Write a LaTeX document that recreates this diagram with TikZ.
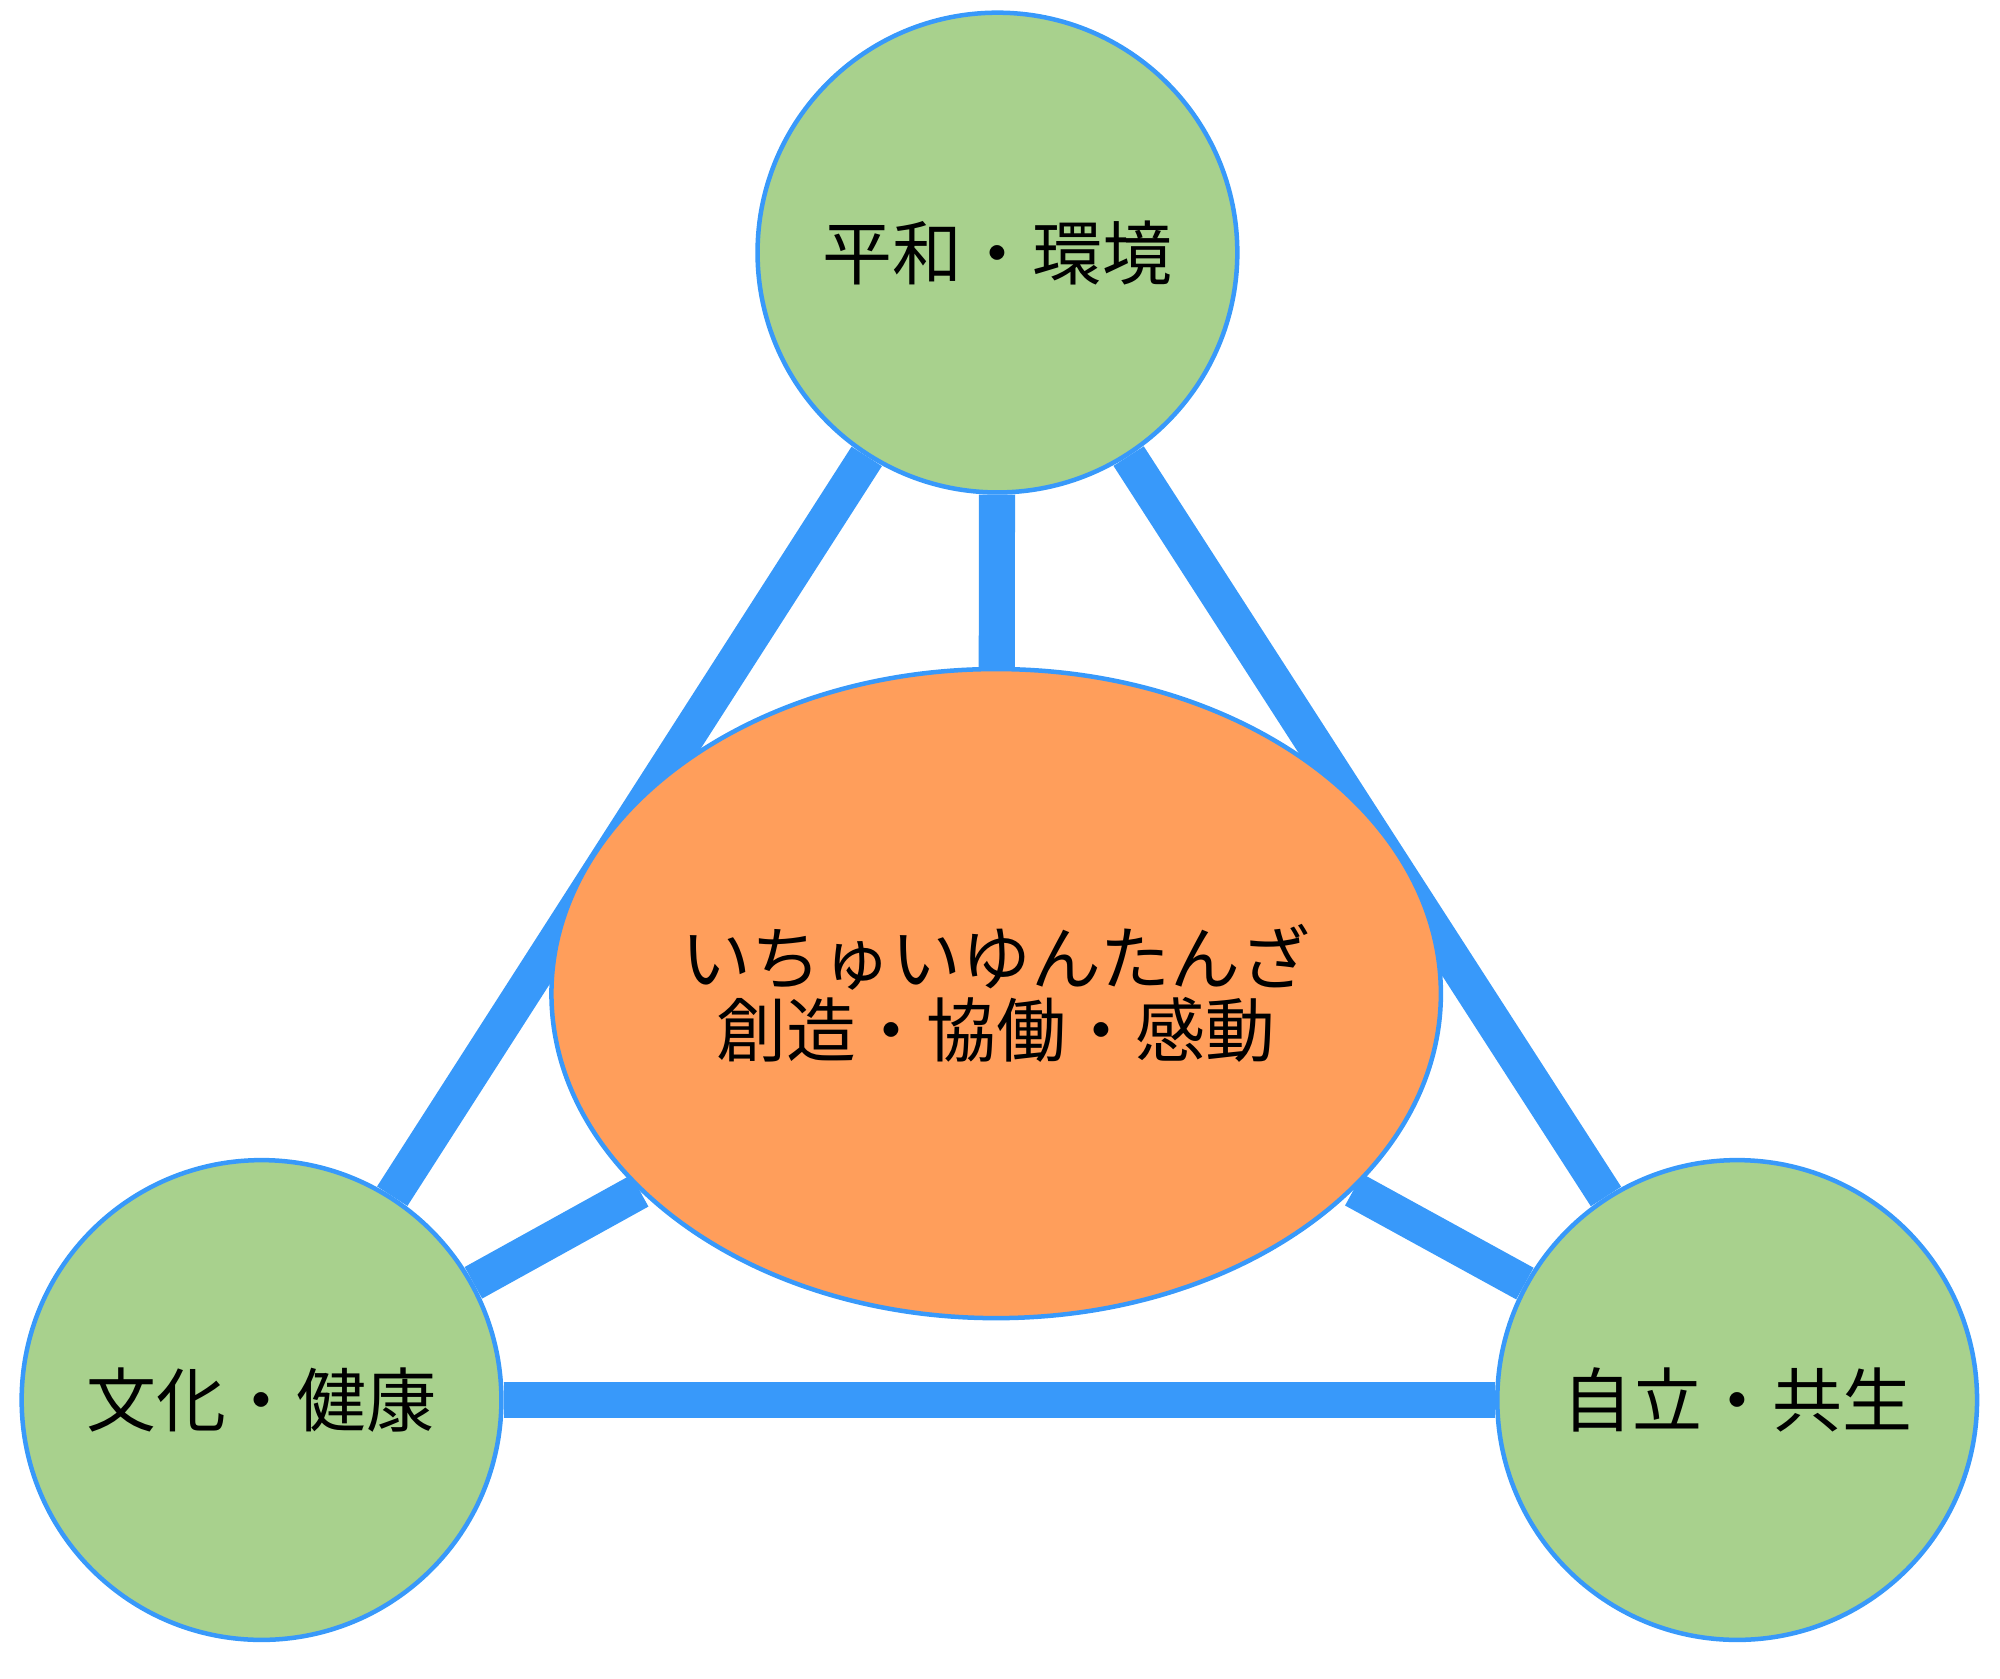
\documentclass[tikz,border=0pt]{standalone}
\usepackage{fontspec}
\setmainfont{Noto Sans CJK JP}
\usetikzlibrary{backgrounds,shapes.geometric}
\definecolor{leaf}{HTML}{A8D18D}
\definecolor{peach}{HTML}{FF9E5B}
\definecolor{sky}{HTML}{3899FA}
\begin{document}
\begin{tikzpicture}[x=0.01cm,y=-0.01cm]
  \tikzset{
    theme/.style={circle,draw=sky,line width=1pt,fill=leaf,minimum size=3.74cm,
      inner sep=0pt,font=\fontsize{15.5}{18}\selectfont},
    core/.style={ellipse,draw=sky,line width=1pt,fill=peach,minimum width=5.36cm,
      minimum height=5.06cm,inner sep=0pt,align=center,font=\fontsize{15.5}{20}\selectfont},
    link/.style={draw=sky,line width=8pt}
  }
  \useasboundingbox (0,0) rectangle (1560,1309);
  \node[theme] (peace) at (778,197) {平和・環境};
  \node[theme] (culture) at (204,1092) {文化・健康};
  \node[theme] (self) at (1355,1092) {自立・共生};
  \node[core] (heart) at (777,775) {いちゅいゆんたんざ\\[-4pt]創造・協働・感動};
  \begin{scope}[on background layer]
    \path (peace) edge[link] (heart);
    \path (peace) edge[link] (culture);
    \path (peace) edge[link] (self);
    \path (culture) edge[link] (self);
    \path (heart) edge[link] (culture);
    \path (heart) edge[link] (self);
  \end{scope}
\end{tikzpicture}
\end{document}
